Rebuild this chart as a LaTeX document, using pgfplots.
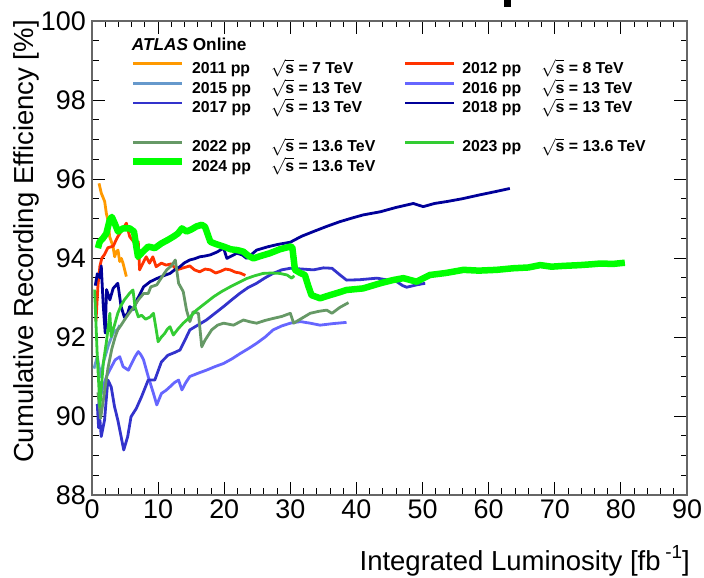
\documentclass[border=0pt]{standalone}
\usepackage{pgfplots}
\pgfplotsset{compat=1.18}
\usepackage{fontspec}
\setmainfont{Liberation Sans}
\definecolor{c2011}{HTML}{FF9900}
\definecolor{c2012}{HTML}{FF3300}
\definecolor{c2015}{HTML}{6699CC}
\definecolor{c2016}{HTML}{6666FF}
\definecolor{c2017}{HTML}{3333CC}
\definecolor{c2018}{HTML}{000099}
\definecolor{c2022}{HTML}{669966}
\definecolor{c2023}{HTML}{33CC33}
\definecolor{c2024}{HTML}{00FF00}
\newcommand{\LE}[2]{\rule[-5bp]{0pt}{19.6bp}\makebox[205bp][l]{\makebox[79bp][l]{#1 pp}$\sqrt{\mbox{s}}$ = #2 TeV}}
\begin{document}
\begin{tikzpicture}
\useasboundingbox (0bp,0bp) rectangle (704bp,578bp);
\fill[black] (504bp,571bp) rectangle (511bp,578bp);
\begin{axis}[
  at={(92bp,83bp)}, anchor=south west,
  scale only axis, width=595bp, height=474bp,
  xmin=0, xmax=90, ymin=88, ymax=100,
  xtick={0,10,...,90}, ytick={88,90,...,100},
  minor x tick num=4, minor y tick num=3,
  tick align=inside,
  major tick length=13bp, minor tick length=6.5bp,
  axis line style={black!60, line width=1.3bp},
  tick style={black, line width=0.9bp},
  /pgf/number format/assume math mode=true,
  tick label style={font=\fontsize{27}{27}\selectfont},
  yticklabel style={inner sep=0pt, xshift=-6bp},
  xticklabel style={inner sep=0pt, yshift=-5bp},
  xlabel={Integrated Luminosity [fb\,\raisebox{0.45em}{\fontsize{19}{19}\selectfont -1}]},
  ylabel={Cumulative Recording Efficiency [\%]},
  label style={font=\fontsize{27.6}{27.6}\selectfont},
  xlabel style={at={(axis description cs:1.005,-0.160)}, anchor=base east, inner sep=0pt},
  ylabel style={at={(axis description cs:-0.0975,1.002)}, rotate=0, anchor=base east, inner sep=0pt},
  legend columns=2,
  legend cell align=left,
  legend style={at={(0.0639,0.920)}, anchor=north west, draw=none, fill=none,
    inner sep=0pt, outer sep=0pt, row sep=0pt,
    font=\bfseries\fontsize{15.9}{15.9}\selectfont,
    nodes={inner sep=0pt, text depth=5bp, text height=14.6bp},
    /tikz/every odd column/.append style={column sep=6.5bp},
    /tikz/every even column/.append style={column sep=7bp}},
  legend image code/.code={\draw[#1] (0bp,5bp) -- (49bp,5bp);},
  every axis plot/.append style={line width=2.8bp, line join=round},
  clip=true,
]
% 2011
\addplot[c2011] coordinates {(1.06,95.89)(1.41,95.64)(1.92,95.43)(2.17,95.13)(2.42,94.96)(2.67,94.54)(3.18,94.29)(3.43,94.03)(3.68,94.16)(3.93,94.2)(4.19,93.91)(4.44,93.99)(4.69,93.87)(4.94,93.7)(5.2,93.53)};
\addlegendentry{\LE{2011}{7}}
% 2012
\addplot[c2012] coordinates {(0.6,92.4)(0.9,93.3)(1.2,93.8)(1.5,94.0)(1.9,94.09)(2.4,94.26)(3.2,94.3)(3.9,94.54)(4.4,94.67)(5.2,94.88)(5.7,94.54)(6.5,94.37)(7.0,94.41)(7.2,93.7)(7.7,93.87)(8.2,94.03)(8.7,93.87)(9.2,94.03)(9.7,93.78)(10.5,93.87)(11.2,93.82)(12.0,93.85)(12.8,93.7)(13.8,93.75)(14.8,93.8)(15.5,93.7)(16.3,93.65)(17.1,93.72)(17.9,93.7)(18.7,93.62)(19.4,93.66)(20.2,93.72)(20.9,93.7)(21.7,93.64)(22.4,93.62)(23.2,93.56)};
\addlegendentry{\LE{2012}{8}}
% 2015
\addplot[c2015] coordinates {(0.3,91.2)(0.8,91.5)(1.3,91.0)(1.8,91.4)(2.5,91.8)(3.2,92.1)(3.9,92.2)(4.2,92.3)};
\addlegendentry{\LE{2015}{13}}
% 2016
\addplot[c2016] coordinates {(1.0,90.3)(1.6,90.7)(2.2,91.0)(2.8,91.2)(3.5,91.42)(4.2,91.5)(4.7,91.25)(5.5,91.16)(6.0,91.33)(6.5,91.5)(7.0,91.63)(7.4,91.55)(7.8,91.42)(8.5,91.0)(9.3,90.57)(9.8,90.28)(10.5,90.57)(11.2,90.65)(11.8,90.74)(12.5,90.85)(13.1,90.91)(13.6,90.66)(14.2,90.85)(14.8,91.0)(16.0,91.08)(17.3,91.16)(18.6,91.25)(19.9,91.33)(21.2,91.45)(22.4,91.58)(23.6,91.7)(24.9,91.84)(26.2,92.0)(27.4,92.18)(28.7,92.28)(30.0,92.35)(31.5,92.39)(33.0,92.35)(34.5,92.3)(36.5,92.34)(38.5,92.37)};
\addlegendentry{\LE{2016}{13}}
% 2017
\addplot[c2017] coordinates {(0.8,90.3)(1.0,89.7)(1.2,89.9)(1.4,89.48)(1.9,89.9)(2.4,90.91)(2.9,90.74)(3.4,90.24)(3.9,89.9)(4.4,89.48)(4.8,89.14)(5.4,89.48)(5.9,89.98)(6.7,90.19)(7.5,90.49)(8.5,90.91)(9.5,90.91)(10.5,91.37)(11.5,91.54)(12.4,91.6)(13.3,91.67)(14.0,91.9)(14.8,92.18)(16.0,92.3)(17.3,92.43)(18.6,92.6)(19.9,92.77)(21.2,92.95)(22.4,93.11)(23.6,93.25)(24.9,93.36)(26.2,93.5)(27.4,93.61)(28.7,93.7)(30.0,93.74)(31.8,93.72)(33.5,93.7)(35.0,93.75)(36.3,93.74)(37.3,93.6)(38.5,93.44)(40.5,93.45)(43.1,93.49)(44.5,93.45)(46.1,93.4)(47.0,93.3)(47.6,93.26)(49.1,93.32)(50.4,93.36)};
\addlegendentry{\LE{2017}{13}}
% 2018
\addplot[c2018] coordinates {(0.5,93.3)(0.8,93.6)(1.2,93.5)(1.4,93.8)(1.7,92.8)(2.0,92.1)(2.2,93.2)(2.7,92.94)(3.2,93.23)(3.9,93.36)(4.4,92.77)(4.9,92.5)(5.4,92.6)(5.7,92.77)(6.3,92.7)(6.8,92.94)(7.3,93.1)(7.8,93.27)(8.8,93.4)(9.8,93.48)(10.8,93.55)(11.8,93.61)(12.5,93.7)(13.3,93.78)(14.0,93.88)(14.8,93.95)(15.5,93.98)(16.3,94.03)(17.1,94.05)(17.9,94.08)(18.9,94.15)(19.9,94.25)(20.4,93.99)(21.1,94.05)(21.9,94.12)(22.7,94.08)(23.4,93.99)(24.2,94.1)(24.9,94.2)(26.5,94.28)(28.0,94.34)(30.0,94.4)(31.7,94.55)(33.5,94.67)(35.5,94.8)(37.5,94.92)(39.3,95.01)(41.0,95.09)(43.6,95.17)(46.0,95.28)(48.6,95.38)(50.1,95.3)(51.8,95.38)(53.7,95.43)(56.0,95.5)(58.7,95.6)(61.0,95.68)(63.2,95.76)};
\addlegendentry{\LE{2018}{13}}
\addlegendimage{empty legend}
\addlegendentry{\rule[-5bp]{0pt}{19.6bp}}
\addlegendimage{empty legend}
\addlegendentry{\rule[-5bp]{0pt}{19.6bp}}
% 2022
\addplot[c2022] coordinates {(0.9,90.6)(1.3,89.94)(1.8,90.5)(2.4,91.2)(3.0,91.7)(3.5,92.0)(3.9,92.18)(4.4,92.3)(4.9,92.43)(5.6,92.6)(6.3,92.75)(7.0,92.94)(7.8,93.1)(8.5,93.1)(8.9,93.27)(9.8,93.32)(10.5,93.5)(11.3,93.7)(12.0,93.8)(12.6,93.95)(13.1,93.36)(13.8,93.15)(14.3,92.68)(14.8,92.39)(15.3,92.64)(16.1,92.6)(16.6,91.75)(17.1,91.92)(18.1,92.18)(19.0,92.3)(19.9,92.35)(21.4,92.3)(22.9,92.43)(24.0,92.38)(24.9,92.35)(26.2,92.42)(27.4,92.47)(28.7,92.52)(30.0,92.6)(30.5,92.35)(31.5,92.45)(33.0,92.6)(34.3,92.65)(35.5,92.68)(36.3,92.6)(37.5,92.75)(38.8,92.87)};
\addlegendentry{\LE{2022}{13.6}}
% 2023
\addplot[c2023] coordinates {(0.4,93.2)(0.8,91.5)(1.2,90.24)(1.7,91.33)(2.2,91.9)(2.7,92.6)(2.9,92.01)(3.4,92.3)(3.9,92.6)(4.4,92.8)(4.9,92.94)(5.7,93.11)(6.2,93.19)(6.5,92.77)(7.0,92.51)(7.5,92.55)(8.1,92.45)(8.8,92.51)(9.3,92.6)(9.7,92.2)(10.0,91.88)(10.5,92.0)(11.0,92.09)(11.4,92.2)(11.8,92.26)(12.3,92.05)(13.0,92.2)(13.8,92.35)(14.8,92.5)(15.8,92.68)(17.1,92.85)(18.4,93.02)(19.6,93.15)(20.9,93.27)(22.2,93.38)(23.4,93.48)(24.6,93.55)(25.9,93.61)(27.2,93.62)(28.4,93.61)(29.5,93.57)(30.2,93.49)(30.6,93.55)};
\addlegendentry{\LE{2023}{13.6}}
% 2024
\addplot[c2024, line width=6.5bp] coordinates {(0.9,94.25)(1.16,94.41)(1.66,94.5)(2.17,94.62)(2.67,94.96)(3.0,95.04)(3.43,94.88)(3.93,94.67)(4.69,94.75)(5.7,94.75)(6.35,94.67)(6.7,94.29)(6.96,94.03)(7.7,94.16)(8.5,94.29)(9.5,94.25)(10.5,94.37)(11.5,94.46)(12.3,94.54)(13.0,94.62)(13.6,94.75)(14.3,94.67)(15.0,94.72)(15.8,94.8)(16.6,94.84)(17.1,94.79)(17.5,94.6)(17.9,94.41)(18.8,94.35)(19.9,94.29)(21.0,94.22)(22.0,94.2)(22.9,94.16)(23.7,94.05)(24.4,93.99)(25.5,94.05)(26.9,94.12)(28.4,94.22)(30.0,94.29)(30.3,94.27)(30.7,93.70)(31.5,93.62)(32.2,93.57)(32.7,93.3)(33.2,93.06)(34.5,92.98)(36.0,93.06)(37.2,93.12)(38.5,93.19)(41.0,93.23)(43.6,93.36)(45.5,93.44)(47.1,93.49)(49.1,93.4)(51.1,93.57)(53.5,93.62)(56.2,93.7)(58.5,93.68)(61.2,93.7)(63.7,93.74)(66.0,93.76)(67.8,93.82)(69.5,93.78)(71.3,93.8)(73.8,93.82)(75.5,93.84)(76.9,93.86)(78.8,93.85)(80.6,93.88)};
\addlegendentry{\LE{2024}{13.6}}
\node[anchor=base west, inner sep=0pt, font=\bfseries\fontsize{17.3}{17.3}\selectfont] at (axis description cs:0.0667,0.9373) {\textit{ATLAS} Online};
\end{axis}
\end{tikzpicture}
\end{document}
